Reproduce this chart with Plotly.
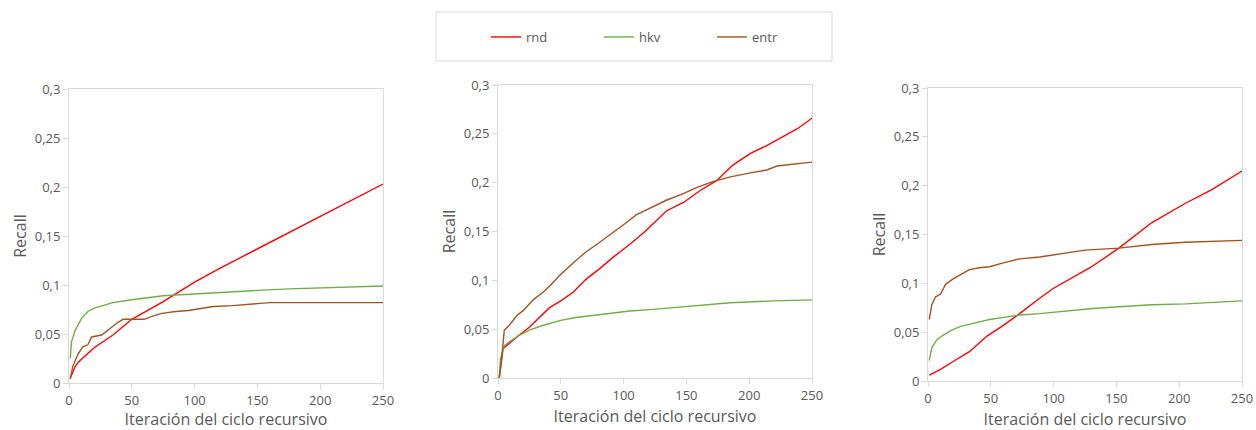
import plotly.graph_objects as go

W, H = 1256, 430

# ---------------- data ----------------
series_names = ["rnd", "hkv", "entr"]
series_colors = ["#FF0000", "#70AD47", "#A5521F"]

# Panel 1 (left)
p1_rnd_x = [1, 5, 8, 20, 35, 50, 75, 86, 100, 120, 150, 188, 200, 250]
p1_rnd_y = [0.005, 0.017, 0.022, 0.036, 0.049, 0.065, 0.083, 0.092, 0.103, 0.117, 0.137, 0.162, 0.170, 0.203]
p1_hkv_x = [1, 2, 5, 10, 15, 20, 35, 50, 75, 100, 130, 150, 175, 200, 225, 250]
p1_hkv_y = [0.025, 0.042, 0.054, 0.066, 0.073, 0.0765, 0.082, 0.085, 0.089, 0.091, 0.093, 0.0945, 0.096, 0.097, 0.098, 0.099]
p1_entr_x = [1, 3, 7, 11, 15, 18, 26, 34, 38, 43, 60, 66, 74, 85, 95, 105, 115, 130, 150, 160, 250]
p1_entr_y = [0.004, 0.017, 0.029, 0.037, 0.039, 0.047, 0.049, 0.057, 0.061, 0.065, 0.065, 0.068, 0.071, 0.073,
             0.074, 0.076, 0.078, 0.079, 0.081, 0.082, 0.082]

# Panel 2 (middle)
p2_rnd_x = [1, 4, 16, 25, 41, 50, 60, 70, 81, 92, 105, 118, 134, 148, 161, 174, 187, 201, 214, 227, 238, 250]
p2_rnd_y = [0.0, 0.030, 0.043, 0.052, 0.072, 0.079, 0.088, 0.101, 0.112, 0.124, 0.137, 0.151, 0.171, 0.180,
            0.192, 0.202, 0.218, 0.230, 0.238, 0.247, 0.255, 0.266]
p2_hkv_x = [1, 2, 5, 9, 16, 25, 36, 50, 62, 81, 105, 121, 150, 185, 220, 250]
p2_hkv_y = [0.0, 0.020, 0.033, 0.037, 0.043, 0.049, 0.054, 0.059, 0.062, 0.065, 0.0686, 0.070, 0.073, 0.077, 0.079, 0.080]
p2_entr_x = [1, 3, 5, 9, 15, 20, 28, 36, 41, 49, 60, 70, 81, 94, 101, 110, 121, 134, 148, 158, 171, 185,
             201, 214, 222, 235, 250]
p2_entr_y = [0.0, 0.021, 0.049, 0.054, 0.064, 0.069, 0.080, 0.088, 0.094, 0.105, 0.118, 0.129, 0.139, 0.151,
             0.158, 0.167, 0.174, 0.182, 0.189, 0.195, 0.201, 0.206, 0.210, 0.213, 0.217, 0.219, 0.221]

# Panel 3 (right)
p3_rnd_x = [1, 10, 20, 33, 47, 60, 73, 87, 100, 116, 129, 152, 178, 205, 226, 250]
p3_rnd_y = [0.006, 0.012, 0.020, 0.030, 0.046, 0.057, 0.069, 0.083, 0.095, 0.107, 0.116, 0.136, 0.162, 0.182, 0.196, 0.215]
p3_hkv_x = [1, 3, 7, 11, 18, 26, 36, 49, 63, 73, 89, 105, 129, 152, 178, 205, 250]
p3_hkv_y = [0.021, 0.034, 0.042, 0.046, 0.0515, 0.056, 0.059, 0.063, 0.0656, 0.0675, 0.069, 0.071, 0.074, 0.076,
            0.078, 0.079, 0.082]
p3_entr_x = [1, 3, 6, 10, 14, 20, 26, 33, 41, 49, 60, 73, 89, 105, 125, 152, 173, 178, 205, 223, 250]
p3_entr_y = [0.063, 0.078, 0.086, 0.089, 0.099, 0.1045, 0.109, 0.114, 0.116, 0.117, 0.121, 0.125, 0.127, 0.130,
             0.134, 0.136, 0.1386, 0.1397, 0.142, 0.143, 0.144]

x_title = "Iteración del ciclo recursivo"
y_title = "Recall"

panels = [
    [(p1_rnd_x, p1_rnd_y), (p1_hkv_x, p1_hkv_y), (p1_entr_x, p1_entr_y)],
    [(p2_rnd_x, p2_rnd_y), (p2_hkv_x, p2_hkv_y), (p2_entr_x, p2_entr_y)],
    [(p3_rnd_x, p3_rnd_y), (p3_hkv_x, p3_hkv_y), (p3_entr_x, p3_entr_y)],
]

# ---------------- layout geometry (pixels) ----------------
plot_boxes = [  # left, right, top, bottom
    (69, 383, 89, 383),
    (498, 812, 85, 378),
    (928, 1242, 88, 381),
]

FONT = "Open Sans, Noto Sans, sans-serif"
TXT = "#595959"
GRID = "#D9D9D9"

fig = go.Figure()
layout = dict(
    width=W, height=H,
    margin=dict(l=0, r=0, t=0, b=0, autoexpand=False),
    paper_bgcolor="white", plot_bgcolor="white",
    separators=",.",
    font=dict(family=FONT, color=TXT, size=12),
    showlegend=True,
    legend=dict(
        orientation="h", x=486 / W, y=1 - 37 / H, xanchor="left", yanchor="middle",
        entrywidth=68, entrywidthmode="pixels", bgcolor="rgba(0,0,0,0)",
        borderwidth=0, font=dict(size=13, color=TXT, family=FONT), itemwidth=30,
    ),
    shapes=[dict(type="rect", xref="paper", yref="paper",
                 x0=436 / W, x1=832 / W, y0=1 - 61 / H, y1=1 - 12 / H,
                 line=dict(color=GRID, width=1), fillcolor="rgba(0,0,0,0)")],
)

for i, (panel, box) in enumerate(zip(panels, plot_boxes)):
    n = "" if i == 0 else str(i + 1)
    l, r, t, b = box
    for j, (xs, ys) in enumerate(panel):
        fig.add_trace(go.Scatter(
            x=xs, y=ys, mode="lines", name=series_names[j],
            line=dict(color=series_colors[j], width=1.4),
            xaxis="x" + n, yaxis="y" + n,
            showlegend=(i == 0), legendgroup=series_names[j],
        ))
    layout["xaxis" + n] = dict(
        domain=[l / W, r / W], anchor="y" + n, range=[0, 250], dtick=50, tick0=0,
        showgrid=False, zeroline=False, showline=True, linecolor=GRID, linewidth=1, mirror=True,
        ticks="outside", ticklen=5, tickcolor=GRID, automargin=False,
        tickfont=dict(size=13, color=TXT, family=FONT),
        title=dict(text=x_title, font=dict(size=16, color=TXT, family=FONT), standoff=8),
    )
    layout["yaxis" + n] = dict(
        domain=[1 - b / H, 1 - t / H], anchor="x" + n, range=[0, 0.3], dtick=0.05, tick0=0,
        showgrid=False, zeroline=False, showline=True, linecolor=GRID, linewidth=1, mirror=True,
        ticks="outside", ticklen=5, tickcolor=GRID, automargin=False,
        tickfont=dict(size=13, color=TXT, family=FONT),
        title=dict(text=y_title, font=dict(size=16, color=TXT, family=FONT), standoff=4),
    )

fig.update_layout(**layout)
fig.write_html("out.html")
